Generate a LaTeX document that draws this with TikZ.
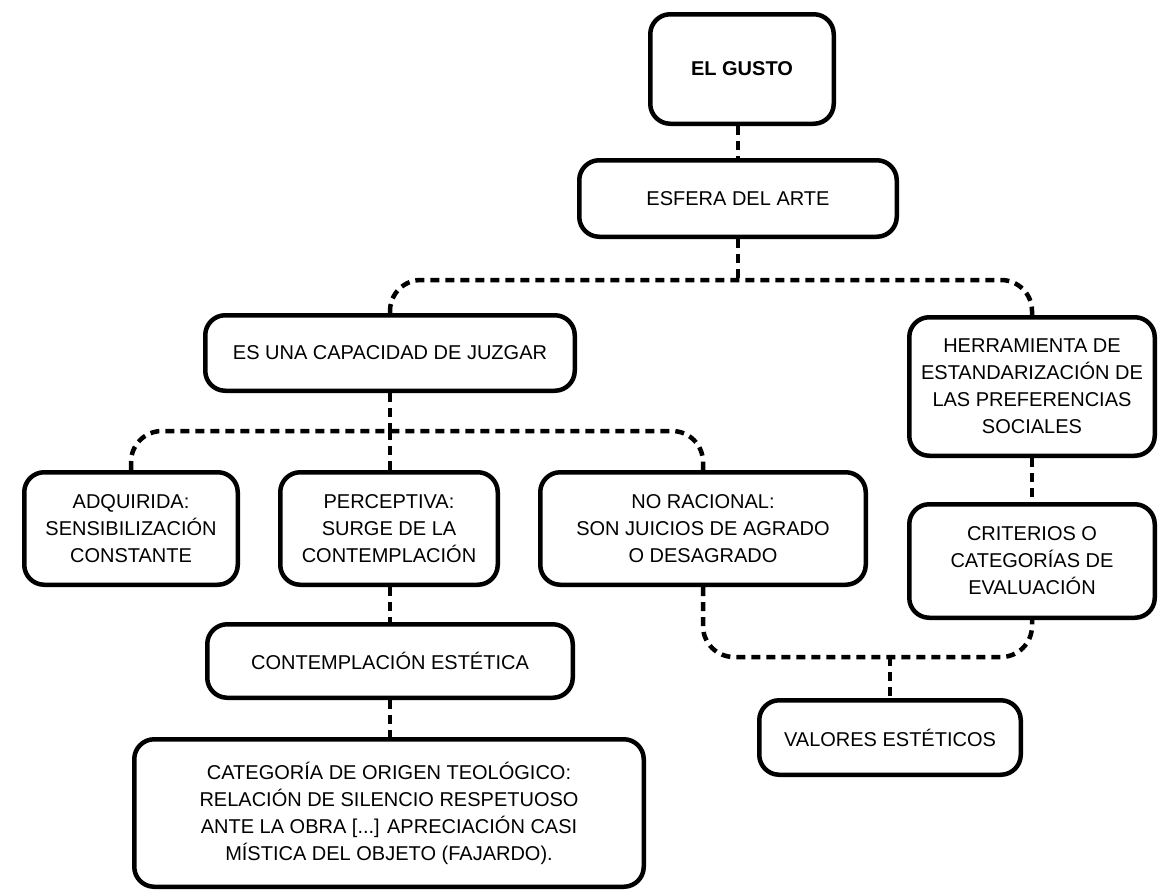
\documentclass[tikz,border=0pt]{standalone}
\usepackage{fontspec}
\setmainfont{Liberation Sans}
\begin{document}
\begin{tikzpicture}[x=1pt,y=-1pt,
  box/.style={draw=black, line width=4.5pt, rounded corners=20pt, fill=white,
    align=center, inner sep=0pt, font=\fontsize{20}{27}\selectfont},
  link/.style={draw=black, line width=4.5pt, dash pattern=on 9pt off 6pt,
    rounded corners=31pt}]
\useasboundingbox (0,0) rectangle (1159,892);

% boxes
\node[box, minimum width=183.5pt, minimum height=109.5pt,
      font=\fontsize{20}{27}\selectfont\bfseries] (gusto) at (742,69) {EL GUSTO};
\node[box, minimum width=317.5pt, minimum height=76.5pt] (esfera) at (738,198.5) {ESFERA DEL ARTE};
\node[box, minimum width=369.5pt, minimum height=75.5pt] (capacidad) at (390,353) {ES UNA CAPACIDAD DE JUZGAR};
\node[box, minimum width=245.5pt, minimum height=138.5pt] (herramienta) at (1032,386.5)
  {HERRAMIENTA DE\\ESTANDARIZACIÓN DE\\LAS PREFERENCIAS\\SOCIALES};
\node[box, minimum width=213.5pt, minimum height=112.5pt] (adquirida) at (131,528.5)
  {ADQUIRIDA:\\SENSIBILIZACIÓN\\CONSTANTE};
\node[box, minimum width=217.5pt, minimum height=112.5pt] (perceptiva) at (389,528.5)
  {PERCEPTIVA:\\SURGE DE LA\\CONTEMPLACIÓN};
\node[box, minimum width=325.5pt, minimum height=112.5pt] (noracional) at (703,528.5)
  {NO RACIONAL:\\SON JUICIOS DE AGRADO\\O DESAGRADO};
\node[box, minimum width=245.5pt, minimum height=113.5pt] (criterios) at (1032,561)
  {CRITERIOS O\\CATEGORÍAS DE\\EVALUACIÓN};
\node[box, minimum width=365.5pt, minimum height=73.5pt] (contemplacion) at (390,661) {CONTEMPLACIÓN ESTÉTICA};
\node[box, minimum width=261.5pt, minimum height=74.5pt] (valores) at (890,737.5) {VALORES ESTÉTICOS};
\node[box, minimum width=509.5pt, minimum height=147.5pt] (categoria) at (389,813)
  {CATEGORÍA DE ORIGEN TEOLÓGICO:\\RELACIÓN DE SILENCIO RESPETUOSO\\ANTE LA OBRA [...] APRECIACIÓN CASI\\MÍSTICA DEL OBJETO (FAJARDO).};

% junction points of the dotted connectors
\coordinate (j1) at (738,280);
\coordinate (j2) at (390,431);
\coordinate (j3) at (890,657);

% dotted connectors
\draw[link] (esfera.north |- gusto.south) -- (esfera.north);
\draw[link] (esfera.south) -- (j1);
\draw[link] (capacidad.north) |- (j1) -| (herramienta.north);
\draw[link] (capacidad.south) -- (j2);
\draw[link] (adquirida.north) |- (j2) -| (noracional.north);
\draw[link] (j2) -- (capacidad.south |- perceptiva.north);
\draw[link] (herramienta.south) -- (criterios.north);
\draw[link] (contemplacion.north |- perceptiva.south) -- (contemplacion.north);
\draw[link] (contemplacion.south) -- (contemplacion.south |- categoria.north);
\draw[link] (noracional.south) |- (j3) -| (criterios.south);
\draw[link] (j3) -- (valores.north);
\end{tikzpicture}
\end{document}
